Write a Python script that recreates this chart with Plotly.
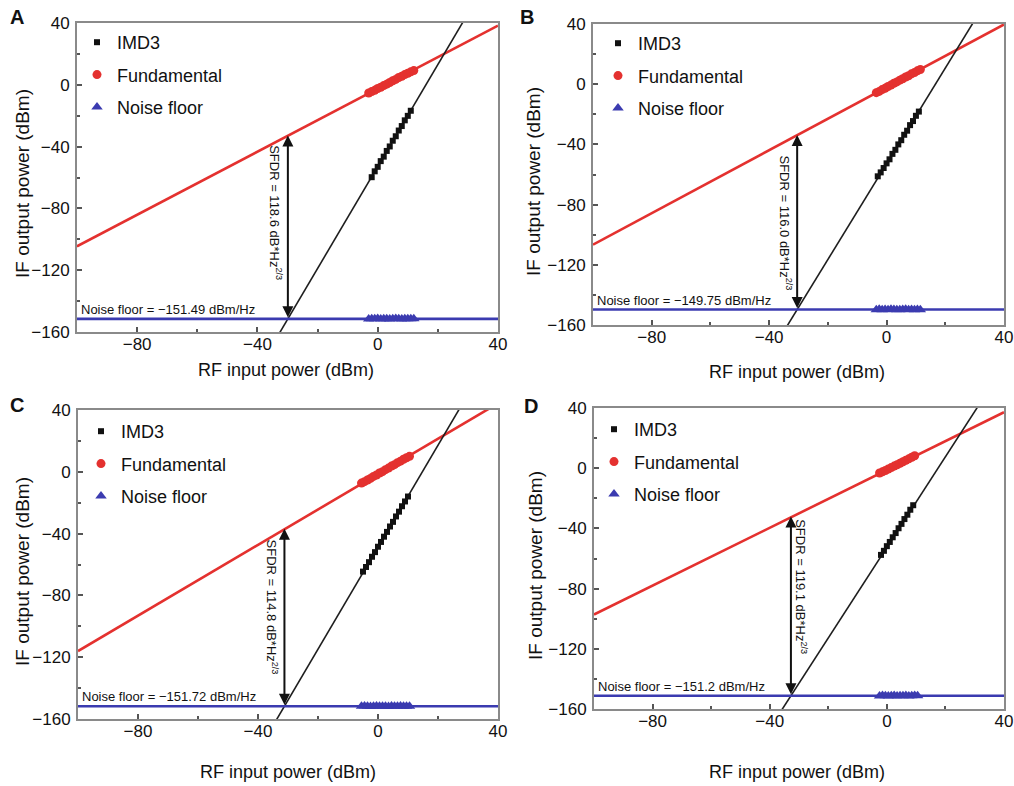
import plotly.graph_objects as go

# ---- data -------------------------------------------------------------
PANELS = ["A", "B", "C", "D"]

# Noise floor (dBm/Hz) and SFDR (dB*Hz^2/3) of each link
noise_floor = [-151.49, -149.75, -151.72, -151.2]
sfdr = [118.6, 116.0, 114.8, 119.1]

# Linear fits: output = slope * input + intercept
fund_slope = [1.02, 1.045, 1.145, 0.96]
fund_intercept = [-2.5, -2.1, -1.5, -1.2]
imd3_slope = [3.3, 3.18, 3.3, 3.01]
imd3_intercept = [-52.9, -52.9, -48.8, -52.6]

# Measured points, panel A
a_fund_in = [-3, -2, -1, 0, 1, 2, 3, 4, 5, 6, 7, 8, 9, 10, 11, 12]
a_fund_out = [-5.3, -4.4, -3.6, -2.4, -1.6, -0.5, 0.4, 1.5, 2.6, 3.5, 4.7, 5.5, 6.6, 7.5, 8.4, 9.2]
a_imd3_in = [-2, -1, 0, 1, 2, 3, 4, 5, 6, 7, 8, 9, 10, 11]
a_imd3_out = [-59.8, -56.0, -53.1, -49.4, -46.5, -42.8, -39.9, -36.2, -33.3, -29.6, -26.7, -23.0, -20.1, -16.8]
a_noise_in = [-3, -2, -1, 0, 1, 2, 3, 4, 5, 6, 7, 8, 9, 10, 11, 12]
a_noise_out = [-151.6, -151.4, -151.5, -151.3, -151.6, -151.5, -151.4, -151.6,
               -151.5, -151.3, -151.5, -151.6, -151.4, -151.5, -151.5, -151.4]

# Measured points, panel B
b_fund_in = [-3.5, -2.5, -1.5, -0.5, 0.5, 1.5, 2.5, 3.5, 4.5, 5.5, 6.5, 7.5, 8.5, 9.5, 10.5, 11.5]
b_fund_out = [-5.6, -4.8, -3.6, -2.7, -1.5, -0.6, 0.6, 1.5, 2.7, 3.6, 4.8, 5.6, 6.9, 7.7, 8.9, 9.8]
b_imd3_in = [-3, -2, -1, 0, 1, 2, 3, 4, 5, 6, 7, 8, 9, 10, 11]
b_imd3_out = [-61.2, -58.6, -55.7, -52.6, -49.9, -46.3, -43.6, -40.0, -37.2, -33.6, -30.9, -27.2, -24.5, -21.0, -18.2]
b_noise_in = [-3.5, -2.5, -1.5, -0.5, 0.5, 1.5, 2.5, 3.5, 4.5, 5.5, 6.5, 7.5, 8.5, 9.5, 10.5, 11.5]
b_noise_out = [-149.8, -149.6, -149.9, -149.7, -149.8, -149.6, -149.7, -149.9,
               -149.8, -149.7, -149.6, -149.8, -149.7, -149.9, -149.7, -149.8]

# Measured points, panel C
c_fund_in = [-5.5, -4.5, -3.5, -2.5, -1.5, -0.5, 0.5, 1.5, 2.5, 3.5, 4.5, 5.5, 6.5, 7.5, 8.5, 9.5, 10.5]
c_fund_out = [-7.3, -6.4, -5.3, -4.3, -3.0, -2.1, -0.8, 0.1, 1.4, 2.4, 3.7, 4.6, 5.9, 6.9, 8.1, 9.1, 10.0]
c_imd3_in = [-5, -4, -3, -2, -1, 0, 1, 2, 3, 4, 5, 6, 7, 8, 9, 10]
c_imd3_out = [-64.6, -61.6, -58.5, -55.0, -52.0, -48.5, -45.4, -42.0, -38.9, -35.4, -32.4, -28.9, -25.8, -22.3, -19.2, -16.0]
c_noise_in = [-5.5, -4.5, -3.5, -2.5, -1.5, -0.5, 0.5, 1.5, 2.5, 3.5, 4.5, 5.5, 6.5, 7.5, 8.5, 9.5, 10.5]
c_noise_out = [-151.8, -151.6, -151.7, -151.9, -151.7, -151.6, -151.8, -151.7, -151.7,
               -151.9, -151.6, -151.8, -151.7, -151.6, -151.8, -151.7, -151.7]

# Measured points, panel D
d_fund_in = [-2.5, -1.5, -0.5, 0.5, 1.5, 2.5, 3.5, 4.5, 5.5, 6.5, 7.5, 8.5, 9.5]
d_fund_out = [-3.2, -2.4, -1.5, -0.5, 0.4, 1.4, 2.3, 3.3, 4.3, 5.3, 6.2, 7.3, 8.3]
d_imd3_in = [-2, -1, 0, 1, 2, 3, 4, 5, 6, 7, 8, 9]
d_imd3_out = [-57.6, -54.9, -51.8, -49.0, -45.9, -43.1, -39.9, -37.0, -33.8, -30.9, -27.6, -24.6]
d_noise_in = [-2.5, -1.5, -0.5, 0.5, 1.5, 2.5, 3.5, 4.5, 5.5, 6.5, 7.5, 8.5, 9.5, 10.5]
d_noise_out = [-151.3, -151.1, -151.2, -151.3, -151.2, -151.1, -151.3, -151.2,
               -151.2, -151.1, -151.3, -151.2, -151.1, -151.2]

X_TICKS = [-80, -40, 0, 40]
Y_TICKS = [-160, -120, -80, -40, 0, 40]
X_RANGE = [-100, 40]
Y_RANGE = [-160, 40]

measured = [
    (a_fund_in, a_fund_out, a_imd3_in, a_imd3_out, a_noise_in, a_noise_out),
    (b_fund_in, b_fund_out, b_imd3_in, b_imd3_out, b_noise_in, b_noise_out),
    (c_fund_in, c_fund_out, c_imd3_in, c_imd3_out, c_noise_in, c_noise_out),
    (d_fund_in, d_fund_out, d_imd3_in, d_imd3_out, d_noise_in, d_noise_out),
]

# ---- layout of the four panels (paper fractions) ---------------------
W, H = 1014, 786
px_x = lambda v: v / W
px_y = lambda v: 1 - v / H

# plot-area boxes in pixels: left, right, top, bottom
boxes = [(77, 498, 23, 332), (593, 1004, 24, 325), (78, 498, 410, 719), (594, 1004, 408, 709)]
letter_pos = [(17, 17), (527, 17), (17, 405), (531, 406)]
ytitle_pos = [(22, 184), (533, 182), (22, 572), (535, 566)]
xtitle_pos = [(286, 370), (797, 372), (288, 772), (797, 772)]
legend_pos = [(77, 24), (598, 25), (81, 413), (594, 411)]
sfdr_label_y = [-83, -92, -87.5, -79]
sfdr_label_dx = [-12, -11, -12, 10]

FONT = "Arial, Liberation Sans, Helvetica, sans-serif"
RED = "#e4312f"
BLUE = "#3b3bb0"
FRAME = "#8a8a8a"

fig = go.Figure()
annotations = []
layout = {}

for i, name in enumerate(PANELS):
    sfx = "" if i == 0 else str(i + 1)
    xref, yref = "x" + sfx, "y" + sfx
    legend_id = "legend" + sfx
    fin, fout, iin, iout, nin, nout = measured[i]
    N = noise_floor[i]

    # fitted lines across the full input range
    fig.add_trace(go.Scatter(
        x=X_RANGE, y=[fund_slope[i] * v + fund_intercept[i] for v in X_RANGE],
        mode="lines", line=dict(color=RED, width=2.6),
        xaxis=xref, yaxis=yref, showlegend=False, hoverinfo="skip"))
    fig.add_trace(go.Scatter(
        x=X_RANGE, y=[imd3_slope[i] * v + imd3_intercept[i] for v in X_RANGE],
        mode="lines", line=dict(color="#1e1e1e", width=1.6),
        xaxis=xref, yaxis=yref, showlegend=False, hoverinfo="skip"))
    fig.add_trace(go.Scatter(
        x=X_RANGE, y=[N, N],
        mode="lines", line=dict(color=BLUE, width=2.6),
        xaxis=xref, yaxis=yref, showlegend=False, hoverinfo="skip"))

    # measured points
    fig.add_trace(go.Scatter(
        x=iin, y=iout, mode="markers", name="IMD3",
        marker=dict(symbol="square", size=6, color="#111111"),
        xaxis=xref, yaxis=yref, legend=legend_id, legendgroup=f"imd3{i}"))
    fig.add_trace(go.Scatter(
        x=fin, y=fout, mode="markers", name="Fundamental",
        marker=dict(symbol="circle", size=9, color=RED),
        xaxis=xref, yaxis=yref, legend=legend_id, legendgroup=f"fund{i}"))
    fig.add_trace(go.Scatter(
        x=nin, y=nout, mode="markers", name="Noise floor",
        marker=dict(symbol="triangle-up", size=10, color=BLUE),
        xaxis=xref, yaxis=yref, legend=legend_id, legendgroup=f"noise{i}"))

    left, right, top, bottom = boxes[i]
    axis_common = dict(
        showline=True, linecolor=FRAME, linewidth=2, mirror=True,
        ticks="inside", ticklen=5, tickwidth=1.5, tickcolor="#555555",
        showgrid=False, zeroline=False, automargin=False,
        tickfont=dict(family=FONT, size=17, color="#111111"),
    )
    layout["xaxis" + sfx] = dict(
        axis_common, domain=[px_x(left), px_x(right)], anchor=yref,
        range=X_RANGE, tickvals=X_TICKS, ticklabelstandoff=-4,
        minor=dict(dtick=20, tick0=-100, ticks="inside", ticklen=3, tickcolor="#555555"))
    layout["yaxis" + sfx] = dict(
        axis_common, domain=[px_y(bottom), px_y(top)], anchor=xref,
        range=Y_RANGE, tickvals=Y_TICKS, ticklabelstandoff=2,
        minor=dict(dtick=20, tick0=-160, ticks="inside", ticklen=3, tickcolor="#555555"))

    lx, ly = legend_pos[i]
    layout[legend_id] = dict(
        x=px_x(lx), y=px_y(ly), xanchor="left", yanchor="top",
        bgcolor="rgba(0,0,0,0)", font=dict(family=FONT, size=18, color="#111111"),
        tracegroupgap=6, itemsizing="trace", traceorder="grouped")

    # SFDR arrow: from the noise floor up to the fundamental at the IMD3 crossing
    x0 = (N - imd3_intercept[i]) / imd3_slope[i]
    annotations.append(dict(
        x=x0, y=N + sfdr[i], ax=x0, ay=N, xref=xref, yref=yref, axref=xref, ayref=yref,
        text="", showarrow=True, arrowside="end+start", arrowhead=2, startarrowhead=2,
        arrowsize=1.1, startarrowsize=1.1, arrowwidth=2, arrowcolor="#111111"))
    annotations.append(dict(
        x=x0, y=sfdr_label_y[i], xref=xref, yref=yref, showarrow=False,
        xshift=sfdr_label_dx[i], textangle=90, xanchor="center", yanchor="middle",
        text=f"SFDR = {sfdr[i]:.1f} dB*Hz<sup>2/3</sup>",
        font=dict(family=FONT, size=13, color="#111111")))
    annotations.append(dict(
        x=X_RANGE[0], y=N, xref=xref, yref=yref, showarrow=False,
        xanchor="left", yanchor="bottom", xshift=2, yshift=0,
        text=f"Noise floor = \u2212{abs(N):g} dBm/Hz",
        font=dict(family=FONT, size=13, color="#111111")))

    # panel letter and axis titles
    center = dict(xref="paper", yref="paper", xanchor="center", yanchor="middle", showarrow=False)
    annotations.append(dict(
        center, x=px_x(letter_pos[i][0]), y=px_y(letter_pos[i][1]),
        text=f"<b>{name}</b>", font=dict(family=FONT, size=20, color="#111111")))
    annotations.append(dict(
        center, x=px_x(ytitle_pos[i][0]), y=px_y(ytitle_pos[i][1]),
        text="IF output power (dBm)", textangle=-90,
        font=dict(family=FONT, size=19, color="#111111")))
    annotations.append(dict(
        center, x=px_x(xtitle_pos[i][0]), y=px_y(xtitle_pos[i][1]),
        text="RF input power (dBm)", font=dict(family=FONT, size=18, color="#111111")))

fig.update_layout(
    width=W, height=H, margin=dict(l=0, r=0, t=0, b=0),
    paper_bgcolor="white", plot_bgcolor="white",
    annotations=annotations, **layout)

fig.write_html("out.html")
